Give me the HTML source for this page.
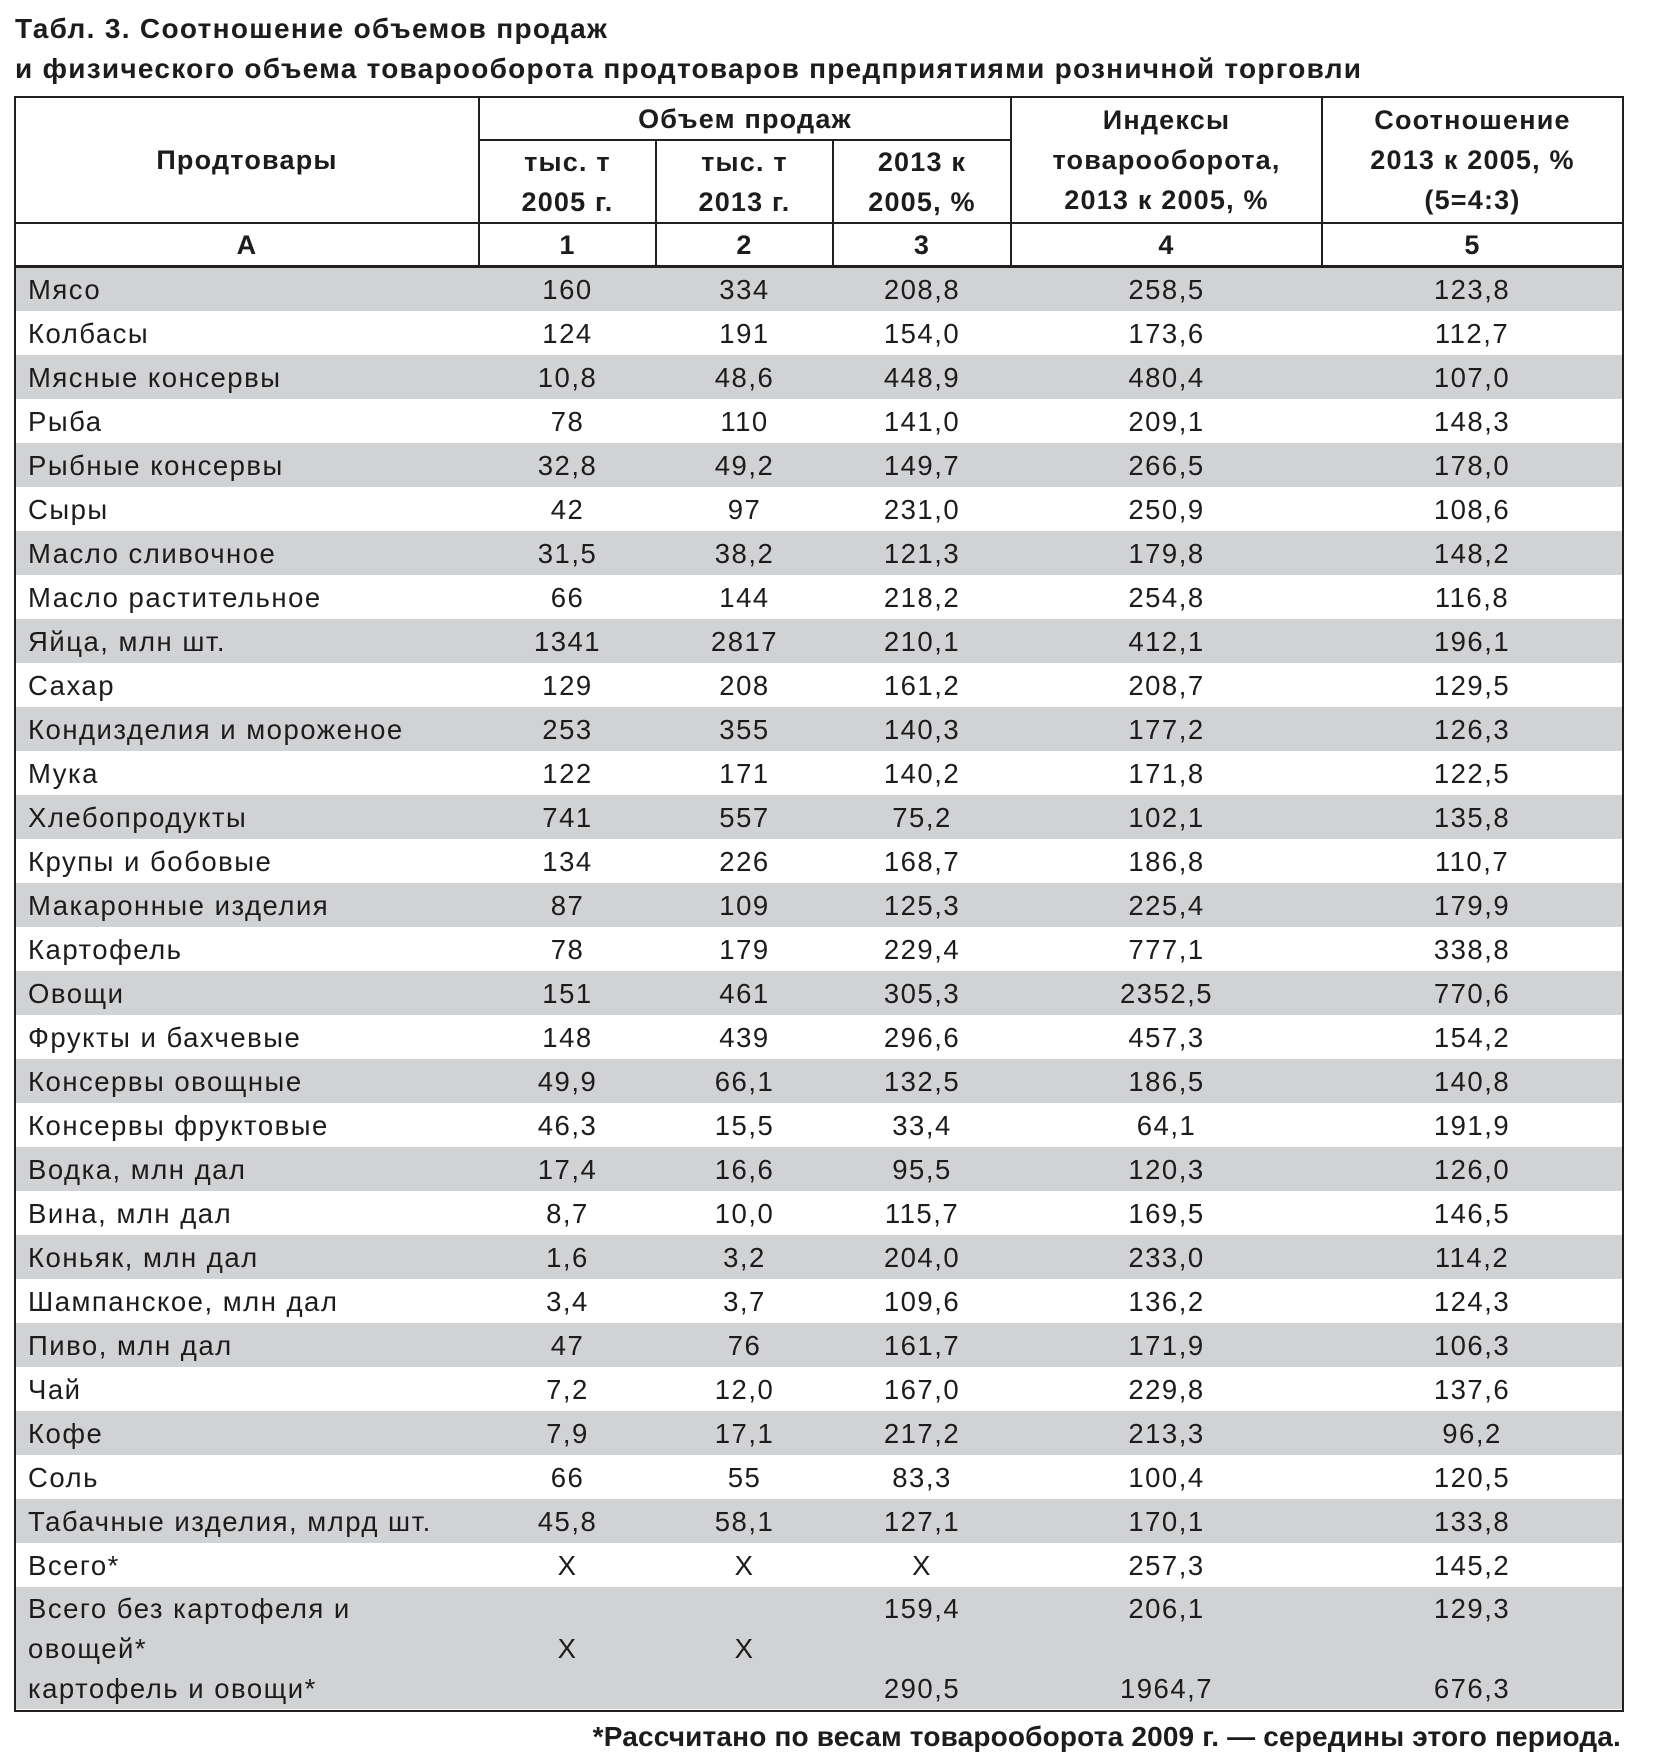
<!DOCTYPE html>
<html>
<head>
<meta charset="utf-8">
<style>
html,body{margin:0;padding:0;background:#fff;}
body{width:1664px;height:1764px;position:relative;overflow:hidden;font-family:"Liberation Sans","DejaVu Sans",sans-serif;color:#1e1b1c;}
.t{position:absolute;white-space:nowrap;font-weight:bold;font-size:28px;line-height:40px;letter-spacing:0.5px;}
.frame{position:absolute;left:14px;top:96px;width:1610px;height:1616px;border:2px solid #231f20;box-sizing:border-box;}
.g{position:absolute;left:16px;width:1606px;height:44px;background:#d1d2d4;}
.hl{position:absolute;background:#231f20;}
.vl{position:absolute;background:#231f20;width:2px;}
.hc{position:absolute;display:flex;align-items:center;justify-content:center;text-align:center;font-weight:bold;font-size:27px;line-height:40px;letter-spacing:1.2px;white-space:nowrap;}
.r{position:absolute;left:16px;width:1606px;height:44px;box-sizing:border-box;padding-top:2px;line-height:42px;display:grid;grid-template-columns:463px 177px 177px 178px 311px 300px;font-size:27.5px;letter-spacing:1.5px;white-space:nowrap;}
.r div{text-align:center;}
.r div:first-child{text-align:left;padding-left:12px;}
.last{position:absolute;left:16px;top:1588px;width:1606px;height:120px;box-sizing:border-box;padding-top:1px;line-height:40px;display:grid;grid-template-columns:463px 177px 177px 178px 311px 300px;font-size:27.5px;letter-spacing:1.5px;white-space:nowrap;}
.last div{text-align:center;}
.last div:first-child{text-align:left;padding-left:12px;}
</style>
</head>
<body>

<div class="t" id="t1" style="left:15px;top:9px;">Табл. 3. Соотношение объемов продаж</div>
<div class="t" id="t2" style="left:15px;top:49px;">и физического объема товарооборота продтоваров предприятиями розничной торговли</div>

<!-- gray backgrounds -->
<div class="g" style="top:267px"></div>
<div class="g" style="top:355px"></div>
<div class="g" style="top:443px"></div>
<div class="g" style="top:531px"></div>
<div class="g" style="top:619px"></div>
<div class="g" style="top:707px"></div>
<div class="g" style="top:795px"></div>
<div class="g" style="top:883px"></div>
<div class="g" style="top:971px"></div>
<div class="g" style="top:1059px"></div>
<div class="g" style="top:1147px"></div>
<div class="g" style="top:1235px"></div>
<div class="g" style="top:1323px"></div>
<div class="g" style="top:1411px"></div>
<div class="g" style="top:1499px"></div>
<div class="g" style="top:1587px;height:122px"></div>

<div class="frame"></div>

<!-- header lines -->
<div class="hl" style="left:479px;top:139px;width:532px;height:2px"></div>
<div class="hl" style="left:15px;top:222px;width:1608px;height:2px"></div>
<div class="hl" style="left:15px;top:265px;width:1608px;height:3px"></div>
<div class="vl" style="left:478px;top:97px;height:169px"></div>
<div class="vl" style="left:655px;top:140px;height:126px"></div>
<div class="vl" style="left:832px;top:140px;height:126px"></div>
<div class="vl" style="left:1010px;top:97px;height:169px"></div>
<div class="vl" style="left:1321px;top:97px;height:169px"></div>

<!-- header text -->
<div class="hc" style="left:16px;top:98px;width:462px;height:124px">Продтовары</div>
<div class="hc" style="left:480px;top:98px;width:530px;height:41px">Объем продаж</div>
<div class="hc" style="left:480px;top:141px;width:175px;height:81px">тыс. т<br>2005 г.</div>
<div class="hc" style="left:657px;top:141px;width:175px;height:81px">тыс. т<br>2013 г.</div>
<div class="hc" style="left:834px;top:141px;width:176px;height:81px">2013 к<br>2005, %</div>
<div class="hc" style="left:1012px;top:98px;width:309px;height:124px">Индексы<br>товарооборота,<br>2013 к 2005, %</div>
<div class="hc" style="left:1323px;top:98px;width:299px;height:124px">Соотношение<br>2013 к 2005, %<br>(5=4:3)</div>

<div class="hc" style="left:16px;top:224px;width:462px;height:42px">А</div>
<div class="hc" style="left:480px;top:224px;width:175px;height:42px">1</div>
<div class="hc" style="left:657px;top:224px;width:175px;height:42px">2</div>
<div class="hc" style="left:834px;top:224px;width:176px;height:42px">3</div>
<div class="hc" style="left:1012px;top:224px;width:309px;height:42px">4</div>
<div class="hc" style="left:1323px;top:224px;width:299px;height:42px">5</div>

<!-- data rows -->
<div class="r" style="top:267px"><div>Мясо</div><div>160</div><div>334</div><div>208,8</div><div>258,5</div><div>123,8</div></div>
<div class="r" style="top:311px"><div>Колбасы</div><div>124</div><div>191</div><div>154,0</div><div>173,6</div><div>112,7</div></div>
<div class="r" style="top:355px"><div>Мясные консервы</div><div>10,8</div><div>48,6</div><div>448,9</div><div>480,4</div><div>107,0</div></div>
<div class="r" style="top:399px"><div>Рыба</div><div>78</div><div>110</div><div>141,0</div><div>209,1</div><div>148,3</div></div>
<div class="r" style="top:443px"><div>Рыбные консервы</div><div>32,8</div><div>49,2</div><div>149,7</div><div>266,5</div><div>178,0</div></div>
<div class="r" style="top:487px"><div>Сыры</div><div>42</div><div>97</div><div>231,0</div><div>250,9</div><div>108,6</div></div>
<div class="r" style="top:531px"><div>Масло сливочное</div><div>31,5</div><div>38,2</div><div>121,3</div><div>179,8</div><div>148,2</div></div>
<div class="r" style="top:575px"><div>Масло растительное</div><div>66</div><div>144</div><div>218,2</div><div>254,8</div><div>116,8</div></div>
<div class="r" style="top:619px"><div>Яйца, млн шт.</div><div>1341</div><div>2817</div><div>210,1</div><div>412,1</div><div>196,1</div></div>
<div class="r" style="top:663px"><div>Сахар</div><div>129</div><div>208</div><div>161,2</div><div>208,7</div><div>129,5</div></div>
<div class="r" style="top:707px"><div>Кондизделия и мороженое</div><div>253</div><div>355</div><div>140,3</div><div>177,2</div><div>126,3</div></div>
<div class="r" style="top:751px"><div>Мука</div><div>122</div><div>171</div><div>140,2</div><div>171,8</div><div>122,5</div></div>
<div class="r" style="top:795px"><div>Хлебопродукты</div><div>741</div><div>557</div><div>75,2</div><div>102,1</div><div>135,8</div></div>
<div class="r" style="top:839px"><div>Крупы и бобовые</div><div>134</div><div>226</div><div>168,7</div><div>186,8</div><div>110,7</div></div>
<div class="r" style="top:883px"><div>Макаронные изделия</div><div>87</div><div>109</div><div>125,3</div><div>225,4</div><div>179,9</div></div>
<div class="r" style="top:927px"><div>Картофель</div><div>78</div><div>179</div><div>229,4</div><div>777,1</div><div>338,8</div></div>
<div class="r" style="top:971px"><div>Овощи</div><div>151</div><div>461</div><div>305,3</div><div>2352,5</div><div>770,6</div></div>
<div class="r" style="top:1015px"><div>Фрукты и бахчевые</div><div>148</div><div>439</div><div>296,6</div><div>457,3</div><div>154,2</div></div>
<div class="r" style="top:1059px"><div>Консервы овощные</div><div>49,9</div><div>66,1</div><div>132,5</div><div>186,5</div><div>140,8</div></div>
<div class="r" style="top:1103px"><div>Консервы фруктовые</div><div>46,3</div><div>15,5</div><div>33,4</div><div>64,1</div><div>191,9</div></div>
<div class="r" style="top:1147px"><div>Водка, млн дал</div><div>17,4</div><div>16,6</div><div>95,5</div><div>120,3</div><div>126,0</div></div>
<div class="r" style="top:1191px"><div>Вина, млн дал</div><div>8,7</div><div>10,0</div><div>115,7</div><div>169,5</div><div>146,5</div></div>
<div class="r" style="top:1235px"><div>Коньяк, млн дал</div><div>1,6</div><div>3,2</div><div>204,0</div><div>233,0</div><div>114,2</div></div>
<div class="r" style="top:1279px"><div>Шампанское, млн дал</div><div>3,4</div><div>3,7</div><div>109,6</div><div>136,2</div><div>124,3</div></div>
<div class="r" style="top:1323px"><div>Пиво, млн дал</div><div>47</div><div>76</div><div>161,7</div><div>171,9</div><div>106,3</div></div>
<div class="r" style="top:1367px"><div>Чай</div><div>7,2</div><div>12,0</div><div>167,0</div><div>229,8</div><div>137,6</div></div>
<div class="r" style="top:1411px"><div>Кофе</div><div>7,9</div><div>17,1</div><div>217,2</div><div>213,3</div><div>96,2</div></div>
<div class="r" style="top:1455px"><div>Соль</div><div>66</div><div>55</div><div>83,3</div><div>100,4</div><div>120,5</div></div>
<div class="r" style="top:1499px"><div>Табачные изделия, млрд шт.</div><div>45,8</div><div>58,1</div><div>127,1</div><div>170,1</div><div>133,8</div></div>
<div class="r" style="top:1543px"><div>Всего*</div><div>X</div><div>X</div><div>X</div><div>257,3</div><div>145,2</div></div>

<div class="last">
<div>Всего без картофеля и<br>овощей*<br>картофель и овощи*</div>
<div><br>X<br>&nbsp;</div>
<div><br>X<br>&nbsp;</div>
<div>159,4<br>&nbsp;<br>290,5</div>
<div>206,1<br>&nbsp;<br>1964,7</div>
<div>129,3<br>&nbsp;<br>676,3</div>
</div>

<div class="t" id="fn" style="right:43px;top:1717px;">*Рассчитано по весам товарооборота 2009 г. — середины этого периода.</div>

<script>
(function(){
  var fits=[["t1",593],["t2",1347],["fn",1028]];
  for(var i=0;i<fits.length;i++){
    var el=document.getElementById(fits[i][0]);
    if(!el) continue;
    el.style.letterSpacing="0px";
    var w=el.getBoundingClientRect().width;
    var n=el.textContent.length;
    var ls=(fits[i][1]-w)/n;
    if(ls>-1.5 && ls<5) el.style.letterSpacing=ls.toFixed(2)+"px";
    else el.style.letterSpacing="0.5px";
  }
})();
</script>
</body>
</html>
